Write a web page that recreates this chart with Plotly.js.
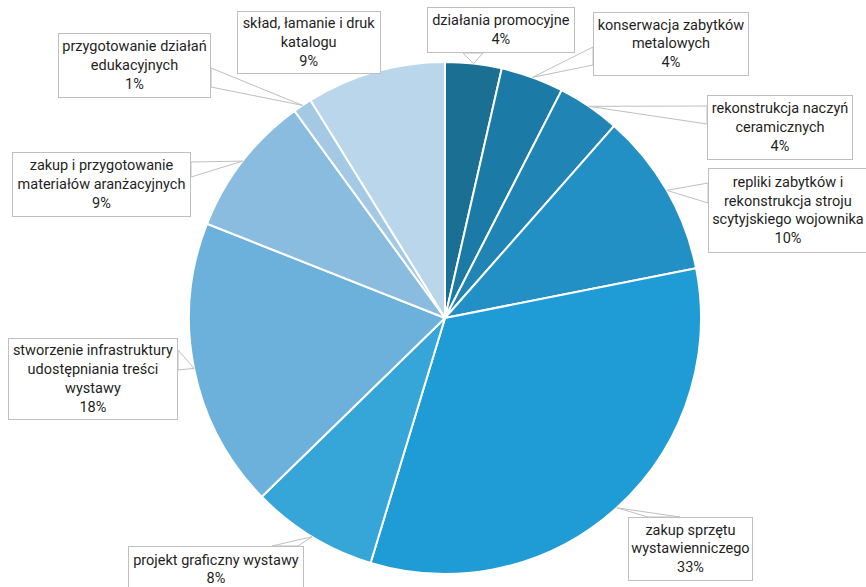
<!DOCTYPE html>
<html><head><meta charset="utf-8">
<script src="https://cdn.plot.ly/plotly-3.0.1.min.js"></script>
<style>html,body{margin:0;padding:0;background:#fff}#chart{width:866px;height:587px}</style>
</head><body><div id="chart"></div>
<script>
// ---- data ----
const categories = [
  "działania promocyjne",
  "konserwacja zabytków<br>metalowych",
  "rekonstrukcja naczyń<br>ceramicznych",
  "repliki zabytków i<br>rekonstrukcja stroju<br>scytyjskiego wojownika",
  "zakup sprzętu<br>wystawienniczego",
  "projekt graficzny wystawy",
  "stworzenie infrastruktury<br>udostępniania treści<br>wystawy",
  "zakup i przygotowanie<br>materiałów aranżacyjnych",
  "przygotowanie działań<br>edukacyjnych",
  "skład, łamanie i druk<br>katalogu"
];
const values = [3.56, 3.97, 3.96, 10.4, 32.8, 8.0, 18.3, 9.0, 1.2, 8.8];
const colors = ["#1b6f93","#1c7ba6","#2085b4","#2290c4","#1f9bd5","#36a5d8","#6bb1db","#89bcdf","#a3c9e5","#bad6ea"];

// ---- layout geometry (pixels) ----
const W = 866, H = 587, CX = 445, CY = 318, R = 256;
const boxes = [
  {b:[427,7,575,53],    side:'b', p:[463,483]},
  {b:[593,12,749,76],   side:'l', p:[47,65]},
  {b:[707,95,853,160],  side:'l', p:[106,124]},
  {b:[708,168,868,253], side:'l', p:[183,203]},
  {b:[628,517,753,581], side:'t', p:[648,680]},
  {b:[128,546,304,593], side:'t', p:[272,298]},
  {b:[8,338,178,420],   side:'r', p:[350,370]},
  {b:[12,152,191,217],  side:'r', p:[162,177]},
  {b:[58,33,211,98],    side:'r', p:[68,87]},
  {b:[237,11,381,74],   side:null, p:null}
];

const total = values.reduce((a,b)=>a+b,0);
const px = x => x / W, py = y => 1 - y / H;

const annotations = [], shapes = [];
let cum = 0;
values.forEach((v,i)=>{
  const m = (cum + v/2) / total; cum += v;
  const th = m * 2 * Math.PI;
  const tx = CX + R*Math.sin(th), ty = CY - R*Math.cos(th);
  const bx = boxes[i];
  const [x0,y0,x1,y1] = bx.b;
  const pct = Math.round(v/total*100) + '%';
  annotations.push({
    xref:'paper', yref:'paper', x:px((x0+x1)/2), y:py((y0+y1)/2),
    xanchor:'center', yanchor:'middle', showarrow:false,
    text: categories[i] + '<br>' + pct, align:'center',
    width: x1-x0-2, height: y1-y0-2, borderpad:0, borderwidth:1,
    bordercolor:'#bfbfbf', bgcolor:'#ffffff',
    font:{family:'Roboto, Liberation Sans, Arial, sans-serif', size:14.5, color:'#1f1f1f'}
  });
  if (bx.side) {
    let a, b;
    if (bx.side==='l') { a=[x0,bx.p[0]]; b=[x0,bx.p[1]]; }
    if (bx.side==='r') { a=[x1,bx.p[0]]; b=[x1,bx.p[1]]; }
    if (bx.side==='t') { a=[bx.p[0],y0]; b=[bx.p[1],y0]; }
    if (bx.side==='b') { a=[bx.p[0],y1]; b=[bx.p[1],y1]; }
    shapes.push({
      type:'path', xref:'paper', yref:'paper', layer:'above',
      path:`M ${px(a[0])} ${py(a[1])} L ${px(tx)} ${py(ty)} L ${px(b[0])} ${py(b[1])} Z`,
      line:{color:'#bfbfbf', width:1}, fillcolor:'#ffffff'
    });
  }
});

const trace = {
  type:'pie', labels: categories.map(s=>s.replace(/<br>/g,' ')), values: values,
  sort:false, direction:'clockwise', rotation:0, textinfo:'none',
  marker:{colors: colors, line:{color:'#ffffff', width:2}},
  domain:{x:[px(CX-R), px(CX+R)], y:[py(CY+R), py(CY-R)]},
  showlegend:false, hoverinfo:'label+percent'
};

Plotly.newPlot('chart', [trace], {
  width:W, height:H, margin:{l:0,r:0,t:0,b:0},
  paper_bgcolor:'#ffffff', plot_bgcolor:'#ffffff',
  showlegend:false, annotations: annotations, shapes: shapes
}, {displayModeBar:false, staticPlot:true});
</script>
</body></html>
